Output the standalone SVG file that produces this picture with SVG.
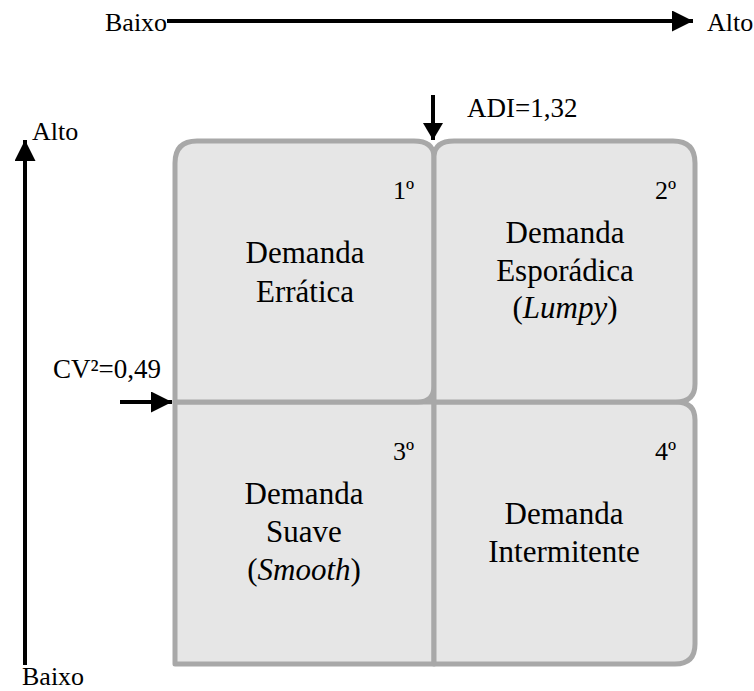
<svg xmlns="http://www.w3.org/2000/svg" width="754" height="691" viewBox="0 0 754 691">
  <style>
    .cell { fill: #e6e6e6; stroke: #a8a8a8; stroke-width: 5; stroke-linejoin: round; }
    .axis { fill: none; stroke: #000; stroke-width: 4; }
    .lbl { font-family: "Liberation Serif", "Times New Roman", serif; fill: #000; }
    .ax { font-size: 26px; }
    .thr { font-size: 27px; }
    .num { font-size: 26px; text-anchor: end; }
    .name { font-size: 31px; text-anchor: middle; }
  </style>
  <defs>
    <marker id="head" markerUnits="userSpaceOnUse" markerWidth="22" markerHeight="22" refX="21" refY="10.5" orient="auto">
      <path d="M0,0 L21,10.5 L0,21 Z" fill="#000"/>
    </marker>
    <marker id="headSmall" markerUnits="userSpaceOnUse" markerWidth="20" markerHeight="21" refX="17" refY="10" orient="auto">
      <path d="M0,0 L17,10 L0,20 Z" fill="#000"/>
    </marker>
  </defs>

  <rect width="754" height="691" fill="#fff"/>

  <!-- quadrant cells -->
  <g id="q3">
    <path class="cell" d="M175,402 H434 V664 H175 Z"/>
    <text class="lbl num" x="414" y="460">3º</text>
    <text class="lbl name" x="304" y="504">Demanda</text>
    <text class="lbl name" x="304" y="542">Suave</text>
    <text class="lbl name" x="304" y="580">(<tspan font-style="italic">Smooth</tspan>)</text>
  </g>
  <g id="q4">
    <path class="cell" d="M434,402 H676 Q695,402 695,420 V644 Q695,664 675,664 H434 Z"/>
    <text class="lbl num" x="676" y="460">4º</text>
    <text class="lbl name" x="564" y="524">Demanda</text>
    <text class="lbl name" x="564" y="562">Intermitente</text>
  </g>
  <g id="q1">
    <path class="cell" d="M175,163 Q175,141 197,141 H414 Q433,141 434,156 V386 Q434,402 418,402 H175 Z"/>
    <text class="lbl num" x="414" y="199">1º</text>
    <text class="lbl name" x="305" y="263">Demanda</text>
    <text class="lbl name" x="305" y="302">Errática</text>
  </g>
  <g id="q2">
    <path class="cell" d="M434,156 Q435,141 454,141 H673 Q695,141 695,163 V384 Q695,402 676,402 H434 Z"/>
    <text class="lbl num" x="676" y="199">2º</text>
    <text class="lbl name" x="565" y="243">Demanda</text>
    <text class="lbl name" x="565" y="281">Esporádica</text>
    <text class="lbl name" x="565" y="318">(<tspan font-style="italic">Lumpy</tspan>)</text>
  </g>

  <!-- axes and threshold arrows -->
  <g id="connectors">
    <line class="axis" x1="167" y1="21" x2="693" y2="21" marker-end="url(#head)"/>
    <line class="axis" x1="25" y1="665" x2="25" y2="140" marker-end="url(#head)"/>
    <line class="axis" x1="433" y1="95" x2="433" y2="140" marker-end="url(#headSmall)"/>
    <line class="axis" x1="120" y1="402" x2="172" y2="402" marker-end="url(#head)"/>
  </g>

  <g id="labels">
    <text class="lbl ax" x="105" y="31">Baixo</text>
    <text class="lbl ax" x="707" y="31">Alto</text>
    <text class="lbl ax" x="32" y="140">Alto</text>
    <text class="lbl ax" x="22" y="685">Baixo</text>
    <text class="lbl thr" x="467" y="117">ADI=1,32</text>
    <text class="lbl thr" x="53" y="378">CV²=0,49</text>
  </g>
</svg>
